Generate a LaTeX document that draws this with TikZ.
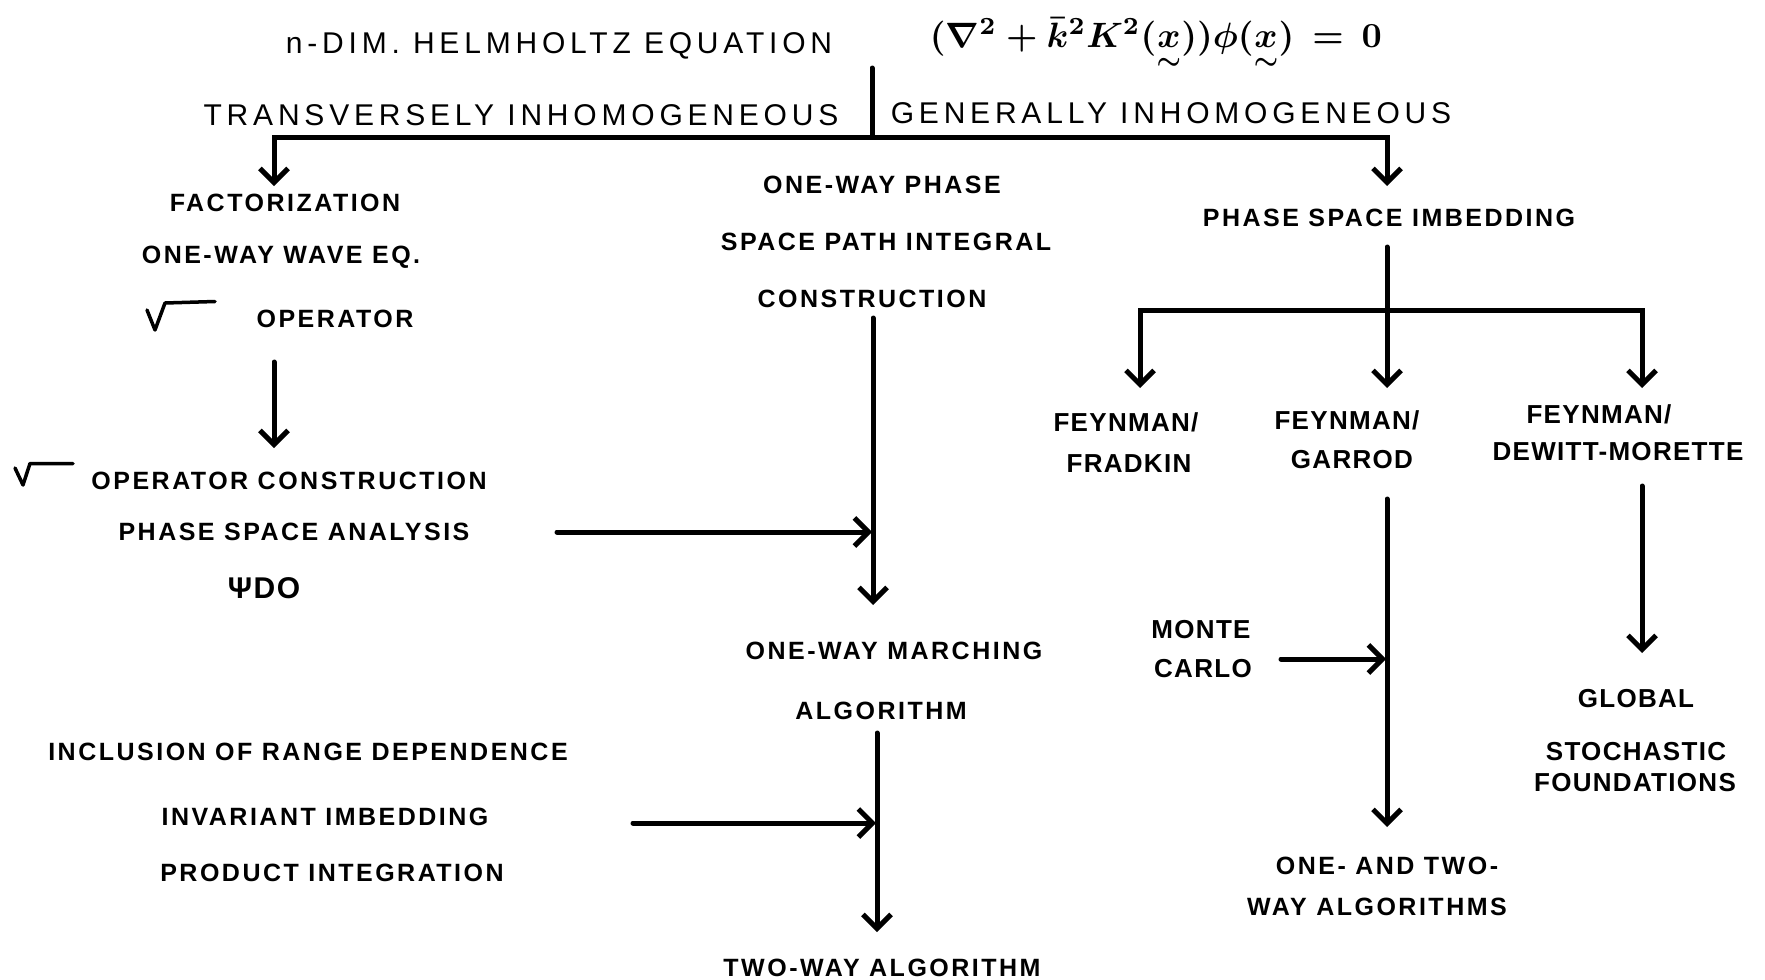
\documentclass[tikz,border=0pt]{standalone}
\usepackage{fontspec}
\usepackage{amsmath}
\usepackage{graphicx}
\usetikzlibrary{arrows.meta}
\setmainfont{Liberation Sans}
\newfontfamily\hdfont[LetterSpace=16]{Liberation Sans}
\newfontfamily\lbfont[LetterSpace=10]{Liberation Sans}
\newfontfamily\rtfont[LetterSpace=5]{Liberation Sans}
\tikzset{
  hd/.style={inner sep=0pt, text height=21.5pt, text depth=0pt, font=\fontsize{30}{36}\selectfont\hdfont},
  lb/.style={inner sep=0pt, text height=18pt, text depth=0pt, font=\fontsize{25}{30}\selectfont\lbfont\bfseries},
  rt/.style={inner sep=0pt, text height=18.6pt, text depth=0pt, font=\fontsize{26}{30}\selectfont\rtfont\bfseries},
  ln/.style={line width=5pt, line cap=round},
  arr/.style={line width=5pt, line cap=round, -{Straight Barb[length=14pt,width=28pt]}},
  rad/.style={line width=3.5pt, line cap=round, line join=round}
}
\begin{document}
\begin{tikzpicture}[x=1pt,y=-1pt]
\useasboundingbox[fill=white] (0,0) rectangle (1765,980);
% header
\node[hd] (title) at (559,43) {n-DIM. HELMHOLTZ EQUATION};
\node[inner sep=0pt, anchor=base] (eq) at (1156,47) {\resizebox{452pt}{!}{\boldmath$(\nabla^{2}+\bar{k}^{2}K^{2}(\underset{\sim}{x}))\phi(\underset{\sim}{x})\,=\,0$}};
\node[hd] (trans) at (521,115) {TRANSVERSELY INHOMOGENEOUS};
\node[hd] (gen) at (1171,113) {GENERALLY INHOMOGENEOUS};
% left column
\node[lb] (fact) at (285,202) {FACTORIZATION};
\node[lb] (owwe) at (281,254) {ONE-WAY WAVE EQ.};
\node[lb] (op) at (335,318) {OPERATOR};
\node[lb] (opc) at (289,480) {OPERATOR CONSTRUCTION};
\node[lb] (psa) at (294,531) {PHASE SPACE ANALYSIS};
\node[inner sep=0pt, text height=21pt, text depth=0pt, font=\fontsize{30}{36}\selectfont\rtfont\bfseries] (psido) at (264,588) {ΨDO};
\node[lb] (incl) at (308,751) {INCLUSION OF RANGE DEPENDENCE};
\node[lb] (inv) at (325,816) {INVARIANT IMBEDDING};
\node[lb] (prod) at (332,872) {PRODUCT INTEGRATION};
% middle column
\node[lb] (owp) at (882,184) {ONE-WAY PHASE};
\node[lb] (spi) at (886,241) {SPACE PATH INTEGRAL};
\node[lb] (cons) at (872,298) {CONSTRUCTION};
\node[lb] (owm) at (894,650) {ONE-WAY MARCHING};
\node[lb] (alg) at (881,710) {ALGORITHM};
\node[lb] (twa) at (882,967) {TWO-WAY ALGORITHM};
% right column
\node[lb] (psi) at (1389,217) {PHASE SPACE IMBEDDING};
\node[rt] (ff1) at (1126,422) {FEYNMAN/};
\node[rt] (ff2) at (1129,463) {FRADKIN};
\node[rt] (fg1) at (1347,420) {FEYNMAN/};
\node[rt] (fg2) at (1352,459) {GARROD};
\node[rt] (fd1) at (1599,414) {FEYNMAN/};
\node[rt] (fd2) at (1618,451) {DEWITT-MORETTE};
\node[rt] (mc1) at (1201,629) {MONTE};
\node[rt] (mc2) at (1203,668) {CARLO};
\node[lb] (otw1) at (1387,865) {ONE- AND TWO-};
\node[lb] (otw2) at (1377,906) {WAY ALGORITHMS};
\node[rt] (gl) at (1636,698) {GLOBAL};
\node[rt] (st) at (1636,751) {STOCHASTIC};
\node[rt] (fo) at (1635,782) {FOUNDATIONS};
% radical signs
\draw[rad] (147,310) -- (155,330) -- (165,303) -- (215,301.5);
\draw[rad] (15,468) -- (23,485) -- (30,463.5) -- (73,463.5);
% junction coordinates
\coordinate (t0) at (872,68);
\coordinate (t1) at (872,137);
\coordinate (tl) at (274,137);
\coordinate (tr) at (1387,137);
\coordinate (la) at (274,186);
\coordinate (ra) at (1387,186);
\coordinate (a1s) at (274,362);
\coordinate (a1e) at (274,448);
\coordinate (m1s) at (873,318);
\coordinate (m1e) at (873,605);
\coordinate (h1s) at (557,532);
\coordinate (h1e) at (872,532);
\coordinate (m2s) at (877,733);
\coordinate (m2e) at (877,932);
\coordinate (h2s) at (633,823);
\coordinate (h2e) at (876,823);
\coordinate (r0) at (1387,247);
\coordinate (r1) at (1387,388);
\coordinate (rj) at (1387,310);
\coordinate (rl) at (1140,310);
\coordinate (rr) at (1642,310);
\coordinate (rle) at (1140,388);
\coordinate (rre) at (1642,388);
\coordinate (g1s) at (1387,499);
\coordinate (g1e) at (1387,827);
\coordinate (mcs) at (1281,659);
\coordinate (mce) at (1386,659);
\coordinate (d1s) at (1642,486);
\coordinate (d1e) at (1642,653);
% connectors
\draw[ln] (t0) -- (t1);
\draw[arr] (t1) -- (tl) -- (la);
\draw[arr] (t1) -- (tr) -- (ra);
\draw[arr] (a1s) -- (a1e);
\draw[arr] (m1s) -- (m1e);
\draw[arr] (h1s) -- (h1e);
\draw[arr] (m2s) -- (m2e);
\draw[arr] (h2s) -- (h2e);
\draw[arr] (r0) -- (r1);
\draw[arr] (rj) -- (rl) -- (rle);
\draw[arr] (rj) -- (rr) -- (rre);
\draw[arr] (g1s) -- (g1e);
\draw[arr] (mcs) -- (mce);
\draw[arr] (d1s) -- (d1e);
\end{tikzpicture}
\end{document}
